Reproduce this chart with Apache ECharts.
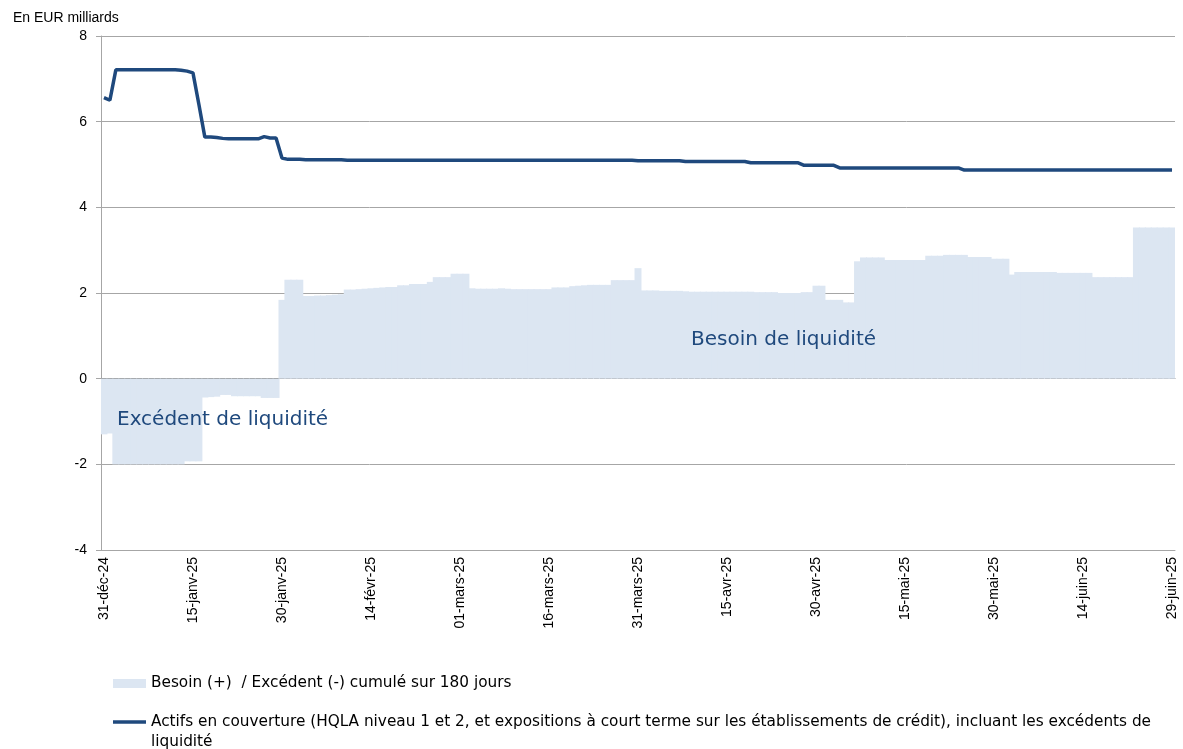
<!DOCTYPE html>
<html>
<head>
<meta charset="utf-8">
<script src="https://cdn.jsdelivr.net/npm/echarts@6/dist/echarts.min.js"></script>
<style>
  html, body { margin: 0; padding: 0; background: #fff; }
  #main { width: 1183px; height: 749px; }
</style>
</head>
<body>
<div id="main"></div>
<script>
// categories: one per day, 31-déc-24 .. 29-juin-25
var moisFr = ['janv', 'févr', 'mars', 'avr', 'mai', 'juin', 'juil', 'août', 'sept', 'oct', 'nov', 'déc'];
var dates = [];
for (var i = 0; i < 181; i++) {
    var d = new Date(Date.UTC(2024, 11, 31 + i));
    var jour = d.getUTCDate();
    dates.push((jour < 10 ? '0' : '') + jour + '-' + moisFr[d.getUTCMonth()] + '-' + String(d.getUTCFullYear()).slice(2));
}

// Besoin (+) / Excédent (-) cumulé sur 180 jours
var besoin = [
    -1.30, -1.28,
    -2.00, -2.00, -2.00, -2.00, -2.00, -2.00, -2.00, -2.00, -2.00, -2.00, -2.00, -2.00,
    -1.93, -1.93, -1.93,
    -0.44, -0.43, -0.42, -0.38, -0.38,
    -0.41, -0.41, -0.41, -0.41, -0.41,
    -0.45, -0.45, -0.45,
    1.84, 2.31, 2.31, 2.31,
    1.93, 1.93, 1.94, 1.94, 1.95, 1.96, 1.97,
    2.08, 2.08, 2.09, 2.10, 2.11, 2.12, 2.13, 2.14, 2.14,
    2.18, 2.18, 2.21, 2.21, 2.21, 2.26,
    2.37, 2.37, 2.37, 2.45, 2.45, 2.45,
    2.11, 2.10, 2.10, 2.10, 2.10, 2.11, 2.10, 2.09,
    2.09, 2.09, 2.09, 2.09, 2.09, 2.09,
    2.13, 2.13, 2.13, 2.16, 2.17, 2.18,
    2.19, 2.19, 2.19, 2.19,
    2.30, 2.30, 2.30, 2.30, 2.58,
    2.06, 2.06, 2.06, 2.05, 2.05, 2.05, 2.05, 2.04,
    2.03, 2.03, 2.03, 2.03, 2.03, 2.03, 2.03, 2.03, 2.03, 2.03, 2.03,
    2.02, 2.02, 2.02, 2.02, 2.00, 2.00, 2.00, 2.00, 2.02, 2.02,
    2.17, 2.17, 1.84, 1.84, 1.84, 1.78, 1.78,
    2.74, 2.83, 2.83, 2.83, 2.83,
    2.77, 2.77, 2.77, 2.77, 2.77, 2.77, 2.77,
    2.87, 2.87, 2.87, 2.89, 2.89, 2.89, 2.89,
    2.84, 2.84, 2.84, 2.84, 2.80, 2.80, 2.80,
    2.43, 2.49, 2.49, 2.49, 2.49, 2.49, 2.49, 2.49,
    2.47, 2.47, 2.47, 2.47, 2.47, 2.47,
    2.37, 2.37, 2.37, 2.37, 2.37, 2.37, 2.37,
    3.53, 3.53, 3.53, 3.53, 3.53, 3.53, 3.53
];

// Actifs en couverture
var actifs = [
    6.56, 6.50,
    7.21, 7.21, 7.21, 7.21, 7.21, 7.21, 7.21, 7.21, 7.21, 7.21, 7.21,
    7.20, 7.18, 7.14, 6.40, 5.64, 5.64, 5.63, 5.61,
    5.60, 5.60, 5.60, 5.60, 5.60, 5.60, 5.65, 5.62, 5.62,
    5.15,
    5.12, 5.12, 5.12, 5.11, 5.11, 5.11, 5.11, 5.11, 5.11, 5.11,
    5.10, 5.10, 5.10, 5.10, 5.10, 5.10, 5.10, 5.10, 5.10, 5.10,
    5.10, 5.10, 5.10, 5.10, 5.10, 5.10, 5.10, 5.10, 5.10, 5.10,
    5.10, 5.10, 5.10, 5.10, 5.10, 5.10, 5.10, 5.10, 5.10, 5.10,
    5.10, 5.10, 5.10, 5.10, 5.10, 5.10, 5.10, 5.10, 5.10, 5.10,
    5.10, 5.10, 5.10, 5.10, 5.10, 5.10, 5.10, 5.10, 5.10,
    5.09, 5.09, 5.09, 5.09, 5.09, 5.09, 5.09, 5.09,
    5.07, 5.07, 5.07, 5.07, 5.07, 5.07, 5.07, 5.07, 5.07, 5.07, 5.07,
    5.04, 5.04, 5.04, 5.04, 5.04, 5.04, 5.04, 5.04, 5.04,
    4.98, 4.98, 4.98, 4.98, 4.98, 4.98,
    4.92, 4.92, 4.92, 4.92, 4.92, 4.92, 4.92, 4.92, 4.92, 4.92, 4.92,
    4.92, 4.92, 4.92, 4.92, 4.92, 4.92, 4.92, 4.92, 4.92, 4.92,
    4.87, 4.87, 4.87, 4.87, 4.87, 4.87, 4.87, 4.87, 4.87, 4.87, 4.87, 4.87,
    4.87, 4.87, 4.87, 4.87, 4.87, 4.87, 4.87, 4.87, 4.87, 4.87, 4.87, 4.87,
    4.87, 4.87, 4.87, 4.87, 4.87, 4.87, 4.87, 4.87, 4.87, 4.87, 4.87, 4.87
];

var nomBesoin = 'Besoin (+)  / Excédent (-) cumulé sur 180 jours';
var nomActifs = 'Actifs en couverture (HQLA niveau 1 et 2, et expositions à court terme sur les établissements de crédit), incluant les excédents de liquidité';

var gris = '#a6a6a6';
var bleuFonce = '#1f497d';
var bleuClair = '#dce6f2';

var myChart = echarts.init(document.getElementById('main'));
var option = {
    animation: false,
    title: {
        text: 'En EUR milliards',
        left: 8, top: 6,
        textStyle: { fontSize: 14, fontWeight: 'normal', color: '#000', fontFamily: 'Liberation Sans' }
    },
    grid: { left: 101, right: 8, top: 36, bottom: 199 },
    legend: [
        {
            left: 113, top: 676, padding: 0,
            itemWidth: 33, itemHeight: 9,
            data: [{ name: nomBesoin, icon: 'rect' }],
            textStyle: { fontSize: 15.3, color: '#000', fontFamily: 'DejaVu Sans' },
            selectedMode: false
        },
        {
            // ligne vide devant le texte pour aligner le trait sur la 1re ligne
            left: 113, top: 692, padding: 0,
            itemWidth: 33, itemHeight: 3.5,
            data: [{ name: nomActifs, icon: 'rect' }],
            formatter: function (name) { return '\n' + name; },
            textStyle: {
                fontSize: 15.3, color: '#000', fontFamily: 'DejaVu Sans',
                width: 1040, overflow: 'break', lineHeight: 20
            },
            selectedMode: false
        }
    ],
    xAxis: [
        {
            type: 'category', data: dates, position: 'bottom', boundaryGap: true,
            axisLine: { onZero: false, lineStyle: { color: gris } },
            axisTick: { show: false },
            axisLabel: { interval: 14, rotate: 90, margin: 7, fontSize: 14, color: '#000', fontFamily: 'Liberation Sans' },
            splitLine: { show: false }
        },
        {
            type: 'category', data: dates, position: 'top', boundaryGap: true,
            axisLine: { onZero: true, lineStyle: { color: '#8c8c8c' } },
            axisTick: { interval: 14, length: 4, lineStyle: { color: '#8c8c8c' } },
            axisLabel: { show: false },
            splitLine: { show: false }
        }
    ],
    yAxis: {
        type: 'value', min: -4, max: 8, interval: 2,
        axisLine: { show: true, lineStyle: { color: gris } },
        axisTick: { show: true, length: 5, lineStyle: { color: gris } },
        splitLine: { lineStyle: { color: gris } },
        axisLabel: { margin: 14, fontSize: 14, color: '#000', fontFamily: 'Liberation Sans' }
    },
    graphic: [
        {
            type: 'text', left: 691, top: 330, z: 100,
            style: { text: 'Besoin de liquidité', fontSize: 20, fontFamily: 'DejaVu Sans', fill: bleuFonce }
        },
        {
            type: 'text', left: 117, top: 410, z: 100,
            style: { text: 'Excédent de liquidité', fontSize: 20, fontFamily: 'DejaVu Sans', fill: bleuFonce }
        }
    ],
    series: [
        {
            name: nomBesoin, type: 'bar', xAxisIndex: 0,
            data: besoin, barWidth: 7, clip: true,
            itemStyle: { color: bleuClair },
            emphasis: { disabled: true }
        },
        {
            name: nomActifs, type: 'line', xAxisIndex: 0,
            data: actifs, symbol: 'none', z: 5,
            lineStyle: { color: bleuFonce, width: 3.5 },
            itemStyle: { color: bleuFonce },
            emphasis: { disabled: true }
        }
    ]
};
myChart.setOption(option);
</script>
</body>
</html>
